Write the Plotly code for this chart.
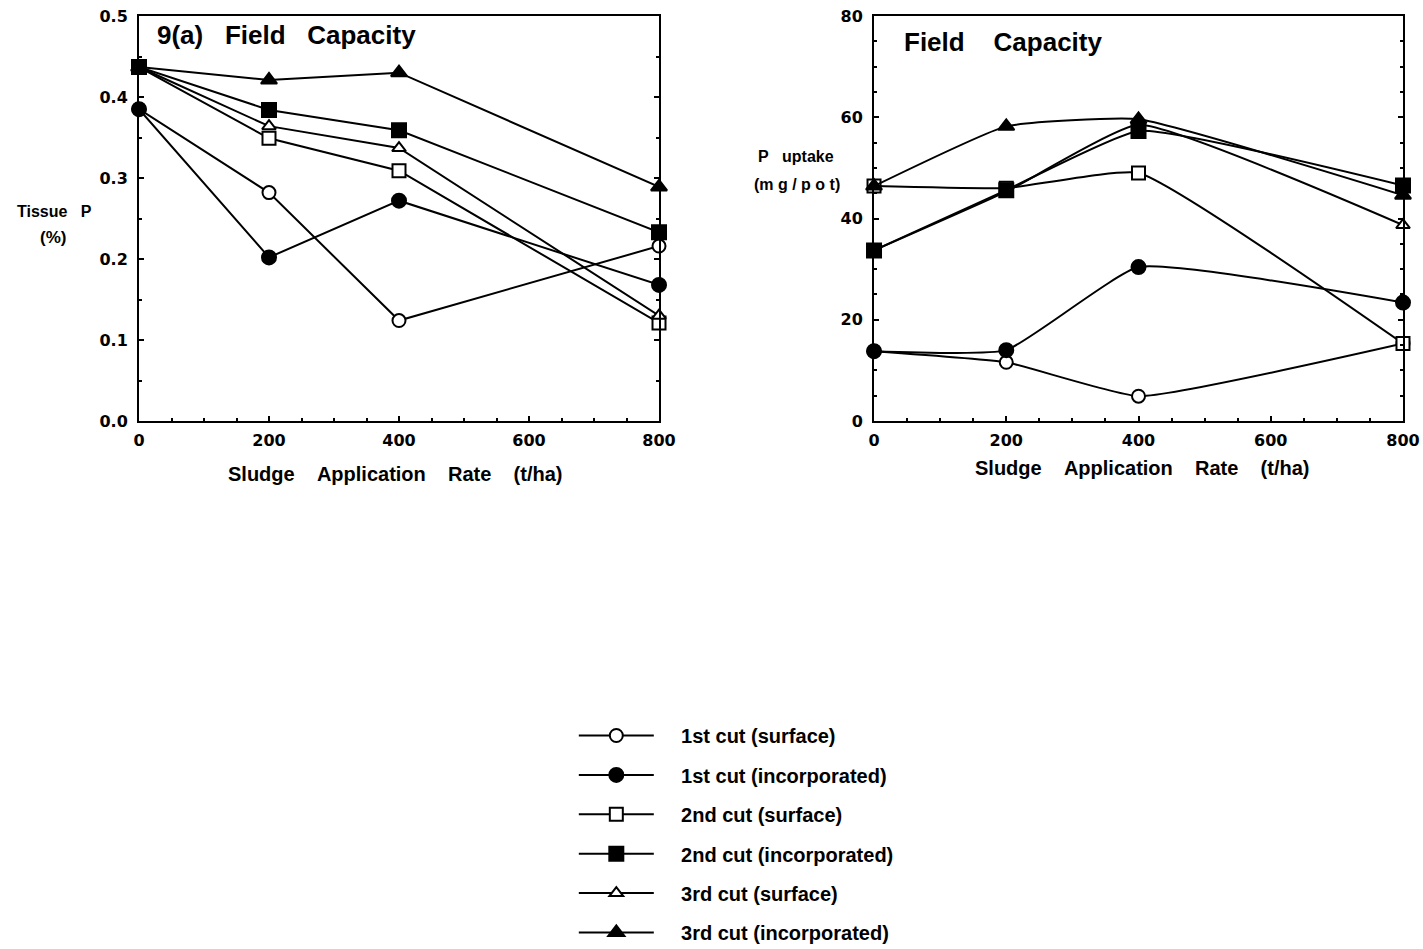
import plotly.graph_objects as go

# Sludge application rates (t/ha)
rates = [0, 200, 400, 800]

series_names = [
    "1st cut (surface)",
    "1st cut (incorporated)",
    "2nd cut (surface)",
    "2nd cut (incorporated)",
    "3rd cut (surface)",
    "3rd cut (incorporated)",
]

# Tissue P (%)
tissue_p_1st_surface = [0.385, 0.282, 0.124, 0.216]
tissue_p_1st_incorp = [0.385, 0.202, 0.272, 0.168]
tissue_p_2nd_surface = [0.437, 0.349, 0.309, 0.121]
tissue_p_2nd_incorp = [0.437, 0.384, 0.359, 0.233]
tissue_p_3rd_surface = [0.437, 0.364, 0.337, 0.130]
tissue_p_3rd_incorp = [0.437, 0.421, 0.430, 0.289]

# P uptake (mg/pot)
uptake_1st_surface = [13.8, 11.6, 4.9, 15.3]
uptake_1st_incorp = [13.8, 14.0, 30.4, 23.4]
uptake_2nd_surface = [46.4, 46.0, 49.0, 15.3]
uptake_2nd_incorp = [33.7, 45.6, 57.3, 46.5]
uptake_3rd_surface = [33.7, 45.3, 58.5, 38.7]
uptake_3rd_incorp = [46.4, 58.2, 59.6, 44.6]

symbols = ["circle-open", "circle", "square-open", "square", "triangle-up-open", "triangle-up"]
marker_sizes = [13, 14, 13, 14, 12, 14]

tissue = [tissue_p_1st_surface, tissue_p_1st_incorp, tissue_p_2nd_surface,
          tissue_p_2nd_incorp, tissue_p_3rd_surface, tissue_p_3rd_incorp]
uptake = [uptake_1st_surface, uptake_1st_incorp, uptake_2nd_surface,
          uptake_2nd_incorp, uptake_3rd_surface, uptake_3rd_incorp]

FONT = "Liberation Sans, Arial, sans-serif"
TICK_FONT = "DejaVu Sans, Liberation Sans, sans-serif"
NB = "\u00a0"

# draw open markers first so the filled ones sit on top where points coincide
draw_order = [0, 2, 4, 1, 3, 5]


def marker_for(i):
    m = dict(symbol=symbols[i], size=marker_sizes[i], color="black",
             line=dict(color="black", width=2))
    if "open" in symbols[i]:
        m["symbol"] = symbols[i].replace("-open", "")
        m["color"] = "white"
    return m


fig = go.Figure()

for i in draw_order:
    fig.add_trace(go.Scatter(
        x=rates, y=tissue[i], name=NB * 4 + series_names[i], mode="lines+markers",
        line=dict(color="black", width=2), marker=marker_for(i),
        xaxis="x", yaxis="y", cliponaxis=False,
        legendgroup=series_names[i], legendrank=i + 1, showlegend=True,
    ))

for i in draw_order:
    fig.add_trace(go.Scatter(
        x=rates, y=uptake[i], name=series_names[i], mode="lines+markers",
        line=dict(color="black", width=2, shape="spline", smoothing=0.4),
        marker=marker_for(i), xaxis="x2", yaxis="y2", cliponaxis=False,
        legendgroup=series_names[i], showlegend=False,
    ))

tick_font = dict(family=TICK_FONT, size=16, color="black", weight="bold")
common = dict(showline=True, linecolor="black", linewidth=2,
              ticks="inside", ticklen=5, tickwidth=2, tickcolor="black",
              showgrid=False, zeroline=False, tickfont=tick_font)
x_common = dict(common, mirror=True, range=[0, 800], tickvals=[0, 200, 400, 600, 800],
                ticklabelstandoff=4,
                minor=dict(ticks="inside", ticklen=3, tickwidth=1.5, dtick=50, tickcolor="black"))
y_minor = dict(ticks="inside", ticklen=3, tickwidth=1.5, tickcolor="black")

title_font = dict(family=FONT, size=20, weight="bold")
ylab_font = dict(family=FONT, size=16, weight="bold")
xtitle = "Sludge" + NB * 4 + "Application" + NB * 4 + "Rate" + NB * 4 + "(t/ha)"

fig.update_layout(
    width=1423, height=949,
    paper_bgcolor="white", plot_bgcolor="white",
    margin=dict(l=139, r=20, t=16, b=528, autoexpand=False),
    font=dict(family=FONT, color="black"),
    xaxis=dict(x_common, domain=[0, 0.4114], anchor="y"),
    yaxis=dict(common, mirror="ticks", domain=[0, 1], range=[0, 0.5],
               tickvals=[0, 0.1, 0.2, 0.3, 0.4, 0.5], tickformat=".1f", anchor="x",
               ticklabelstandoff=6, minor=dict(y_minor, dtick=0.05)),
    xaxis2=dict(x_common, domain=[0.5815, 1], anchor="y2"),
    yaxis2=dict(common, mirror="ticks", domain=[0, 1], range=[0, 80],
                tickvals=[0, 20, 40, 60, 80], anchor="x2",
                ticklabelstandoff=6, minor=dict(y_minor, dtick=5)),
    legend=dict(
        x=0.344, y=-0.7284, xanchor="left", yanchor="top",
        font=dict(family=FONT, size=20, color="black", weight="bold"),
        traceorder="grouped", tracegroupgap=10.4, itemwidth=75,
        bgcolor="rgba(0,0,0,0)", borderwidth=0,
    ),
    annotations=[
        dict(text="9(a)" + NB * 3 + "Field" + NB * 3 + "Capacity", x=0.0127, y=0.953,
             xref="paper", yref="paper", xanchor="left", yanchor="middle", showarrow=False,
             font=dict(family=FONT, size=26, weight="bold")),
        dict(text="Field" + NB * 4 + "Capacity", x=0.6036, y=0.936,
             xref="paper", yref="paper", xanchor="left", yanchor="middle", showarrow=False,
             font=dict(family=FONT, size=26, weight="bold")),
        dict(text=xtitle, x=0.2025, y=-0.131, xref="paper", yref="paper",
             xanchor="center", yanchor="middle", showarrow=False, font=title_font),
        dict(text=xtitle, x=0.7935, y=-0.116, xref="paper", yref="paper",
             xanchor="center", yanchor="middle", showarrow=False, font=title_font),
        dict(text="Tissue" + NB * 3 + "P", x=-0.0672, y=0.5185, xref="paper", yref="paper",
             xanchor="center", yanchor="middle", showarrow=False, font=ylab_font),
        dict(text="(%)", x=-0.068, y=0.454, xref="paper", yref="paper",
             xanchor="center", yanchor="middle", showarrow=False,
             font=dict(family=FONT, size=17, weight="bold")),
        dict(text="P" + NB * 3 + "uptake", x=0.5198, y=0.652, xref="paper", yref="paper",
             xanchor="center", yanchor="middle", showarrow=False, font=ylab_font),
        dict(text="(m g / p o t)", x=0.5206, y=0.583, xref="paper", yref="paper",
             xanchor="center", yanchor="middle", showarrow=False, font=ylab_font),
    ],
)

fig.write_html("out.html")
